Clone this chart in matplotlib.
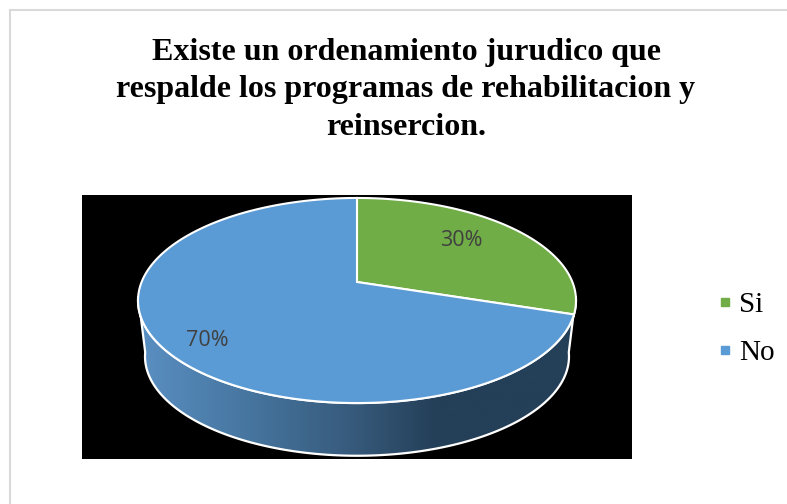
import matplotlib
matplotlib.use("Agg")
import matplotlib.pyplot as plt
import numpy as np
from matplotlib.colors import LinearSegmentedColormap
from matplotlib.lines import Line2D
from matplotlib.patches import Polygon, Rectangle

title = "Existe un ordenamiento jurudico que\nrespalde los programas de rehabilitacion y\nreinsercion."
labels = ["Si", "No"]
values = [30, 70]
colors = ["#70AD47", "#5B9BD5"]

# perspective of the pie top, in pixels of the picture
cx, cy = 357, 282
k = 215.4
a = -48.3
c = 0.1805
shrink = 0.968
depth = 56


def top(deg):
    t = np.radians(deg)
    u, v = np.cos(t), np.sin(t)
    d = 1 + c * v
    return cx + k * u / d, (a * v + cy) / d


def bottom(deg):
    x, y = top(deg)
    return cx + shrink * (x - cx), 300 + shrink * (y - 300) + depth


fig = plt.figure(figsize=(7.87, 5.04), dpi=100)
ax = fig.add_axes([0, 0, 1, 1])
ax.axis("off")

# chart frame, open to the right and the bottom
ax.add_patch(Rectangle((10, 10), 800, 520, fc="white", ec="#D9D9D9", lw=1.5))

ax.add_patch(Rectangle((82, 195), 550, 264, fc="black", ec="none"))

# rim of the pie with its gradient
rim = np.linspace(188, 352, 200)
xt, yt = top(rim)
xb, yb = bottom(rim)
outline = np.column_stack([np.r_[xt, xb[::-1]], np.r_[yt, yb[::-1]]])
rim_patch = Polygon(outline, closed=True, fc="none", ec="white", lw=1.6, zorder=3)
ax.add_patch(rim_patch)
shade = LinearSegmentedColormap.from_list(
    "rim", [(0, "#5A8FC2"), (0.25, "#46759F"), (0.5, "#36597A"), (0.68, "#243F58"), (1, "#243F58")]
)
img = ax.imshow(np.linspace(0, 1, 256)[None, :], cmap=shade, extent=(140, 575, 465, 295),
                aspect="auto", zorder=2)
img.set_clip_path(Polygon(outline, closed=True, transform=ax.transData))

# top slices, clockwise from twelve o'clock
start = 90
for val, col in zip(values, colors):
    end = start - val * 3.6
    ang = np.linspace(start, end, 200)
    x, y = top(ang)
    pts = np.column_stack([np.r_[cx, x], np.r_[cy, y]])
    ax.add_patch(Polygon(pts, closed=True, fc=col, ec="white", lw=1.5, zorder=4))
    start = end

label_pos = [(461, 241), (207, 341)]
for val, pos in zip(values, label_pos):
    ax.text(pos[0], pos[1], f"{val}%", fontsize=15.5, family="Open Sans", color="#404040",
            ha="center", va="center", zorder=5)

ax.text(406, 90, title, fontsize=23, family="Liberation Serif", weight="bold", color="black",
        ha="center", va="center", linespacing=1.37)

handles = [Line2D([], [], ls="none", marker="s", ms=5.5, color=col) for col in colors]
ax.legend(handles, labels, loc="center left", bbox_to_anchor=(716 / 787, 1 - 329 / 504),
          frameon=False, prop={"family": "Liberation Serif", "size": 21},
          handlelength=0.6, handletextpad=0.2, labelspacing=0.72, borderpad=0, borderaxespad=0)

ax.set_xlim(0, 787)
ax.set_ylim(504, 0)
fig.savefig("out.png", dpi=100)
